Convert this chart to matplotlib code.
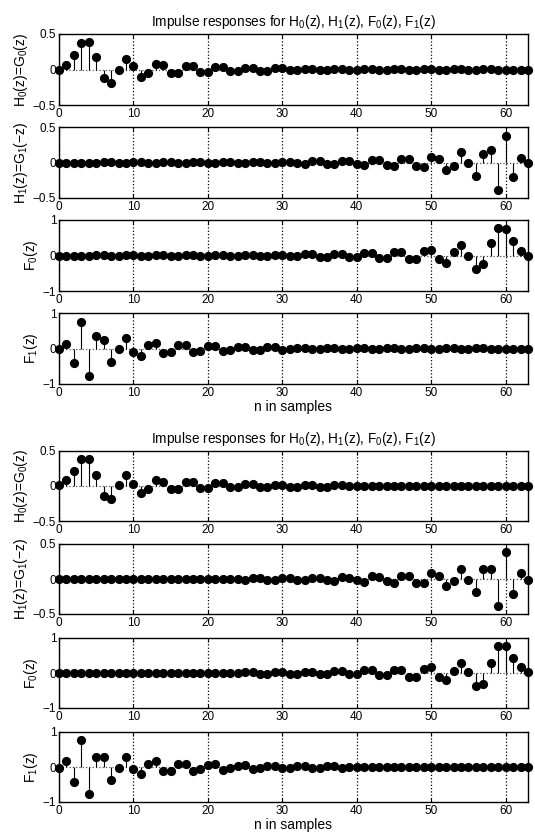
import numpy as np
import matplotlib.pyplot as plt

plt.rcParams['font.family'] = ['Liberation Sans', 'DejaVu Sans']
plt.rcParams['mathtext.fontset'] = 'custom'
plt.rcParams['mathtext.rm'] = 'Liberation Sans'
plt.rcParams['mathtext.it'] = 'Liberation Sans:italic'

n = np.arange(64)

# first group (upper half)
h0_a = [0.0, 0.07, 0.20, 0.37, 0.39, 0.17, -0.12, -0.19, 0.0, 0.15,
        0.055, -0.10, -0.055, 0.08, 0.065, -0.05, -0.055, 0.045, 0.05, -0.03,
        -0.04, 0.035, 0.035, -0.02, -0.02, 0.028, 0.028, -0.015, -0.015, 0.02,
        0.02, -0.012, -0.012, 0.012, 0.012, -0.01, -0.01, 0.008, 0.008, -0.006,
        -0.006, 0.005, 0.005, -0.004, -0.004, 0.003, 0.003, -0.003, -0.003, 0.002,
        0.002, -0.002, -0.002, 0.001, 0.001, -0.001, -0.001, 0.001, 0.001, 0.0,
        0.0, 0.0, 0.0, 0.0]
h1_a = [0.0, 0.0, 0.0, 0.0, 0.0, -0.001, 0.001, 0.001, -0.001, -0.001,
        0.001, 0.002, -0.002, -0.002, 0.002, 0.003, -0.003, -0.003, 0.003, 0.004,
        -0.004, -0.005, 0.005, 0.006, -0.006, -0.008, 0.008, 0.01, -0.01, -0.012,
        0.012, 0.012, -0.012, -0.02, 0.02, 0.015, -0.015, -0.028, 0.028, 0.02,
        -0.02, -0.035, 0.035, 0.04, -0.03, -0.05, 0.045, 0.055, -0.05, -0.065,
        0.08, 0.055, -0.10, -0.055, 0.15, 0.0, -0.19, 0.12, 0.17, -0.39,
        0.37, -0.20, 0.07, 0.0]
f0_a = [0.0, 0.0, 0.0, 0.0, 0.0, 0.002, 0.002, -0.002, -0.002, 0.002,
        0.002, -0.004, -0.004, 0.004, 0.004, -0.006, -0.006, 0.006, 0.006, -0.008,
        -0.008, 0.01, 0.01, -0.012, -0.012, 0.016, 0.016, -0.02, -0.02, 0.024,
        0.024, -0.024, -0.024, 0.04, 0.04, -0.03, -0.03, 0.056, 0.056, -0.04,
        -0.04, 0.07, 0.07, -0.08, -0.06, 0.10, 0.09, -0.11, -0.10, 0.13,
        0.16, -0.11, -0.20, 0.11, 0.30, 0.0, -0.38, -0.24, 0.34, 0.78,
        0.74, 0.40, 0.14, 0.0]
f1_a = [0.0, 0.14, -0.40, 0.74, -0.78, 0.34, 0.24, -0.38, 0.0, 0.30,
        -0.11, -0.20, 0.11, 0.16, -0.13, -0.10, 0.11, 0.09, -0.10, -0.06,
        0.08, 0.07, -0.07, -0.04, 0.04, 0.056, -0.056, -0.03, 0.03, 0.04,
        -0.04, -0.024, 0.024, 0.024, -0.024, -0.02, 0.02, 0.016, -0.016, -0.012,
        0.012, 0.01, -0.01, -0.008, 0.008, 0.006, -0.006, -0.006, 0.006, 0.004,
        -0.004, -0.004, 0.004, 0.002, -0.002, -0.002, 0.002, 0.002, -0.002, 0.0,
        0.0, 0.0, 0.0, 0.0]

# second group (lower half)
h0_b = [0.01, 0.08, 0.22, 0.38, 0.38, 0.15, -0.15, -0.18, 0.02, 0.15,
        0.03, -0.10, -0.05, 0.08, 0.06, -0.05, -0.05, 0.05, 0.05, -0.03,
        -0.03, 0.04, 0.04, -0.02, -0.02, 0.03, 0.03, -0.015, -0.015, 0.02,
        0.02, -0.01, -0.01, 0.012, 0.012, -0.008, -0.008, 0.008, 0.008, -0.005,
        -0.005, 0.005, 0.005, -0.003, -0.003, 0.003, 0.003, -0.002, -0.002, 0.002,
        0.002, -0.001, -0.001, 0.001, 0.001, 0.0, 0.0, 0.0, 0.0, 0.0,
        0.0, 0.0, 0.0, 0.0]
h1_b = [0.0, 0.0, 0.0, 0.0, 0.0, 0.0, 0.0, 0.0, 0.0, -0.001,
        0.001, 0.001, -0.001, -0.002, 0.002, 0.002, -0.002, -0.003, 0.003, 0.003,
        -0.003, -0.005, 0.005, 0.005, -0.005, -0.008, 0.008, 0.008, -0.008, -0.012,
        0.012, 0.01, -0.01, -0.02, 0.02, 0.015, -0.015, -0.03, 0.03, 0.02,
        -0.02, -0.04, 0.04, 0.03, -0.03, -0.05, 0.05, 0.05, -0.05, -0.06,
        0.08, 0.05, -0.10, -0.03, 0.15, -0.02, -0.18, 0.15, 0.15, -0.38,
        0.38, -0.22, 0.08, -0.01]
f0_b = [0.0, 0.0, 0.0, 0.0, 0.0, 0.0, 0.0, 0.0, 0.0, 0.002,
        0.002, -0.002, -0.002, 0.004, 0.004, -0.004, -0.004, 0.006, 0.006, -0.006,
        -0.006, 0.01, 0.01, -0.01, -0.01, 0.016, 0.016, -0.016, -0.016, 0.024,
        0.024, -0.02, -0.02, 0.04, 0.04, -0.03, -0.03, 0.06, 0.06, -0.04,
        -0.04, 0.08, 0.08, -0.06, -0.06, 0.10, 0.10, -0.10, -0.10, 0.12,
        0.16, -0.10, -0.20, 0.06, 0.30, 0.04, -0.36, -0.30, 0.30, 0.76,
        0.76, 0.44, 0.16, 0.02]
f1_b = [-0.02, 0.16, -0.44, 0.76, -0.76, 0.30, 0.30, -0.36, -0.04, 0.30,
        -0.06, -0.20, 0.10, 0.16, -0.12, -0.10, 0.10, 0.10, -0.10, -0.06,
        0.06, 0.08, -0.08, -0.04, 0.04, 0.06, -0.06, -0.03, 0.03, 0.04,
        -0.04, -0.02, 0.02, 0.024, -0.024, -0.016, 0.016, 0.016, -0.016, -0.01,
        0.01, 0.01, -0.01, -0.006, 0.006, 0.006, -0.006, -0.004, 0.004, 0.004,
        -0.004, -0.002, 0.002, 0.002, -0.002, 0.0, 0.0, 0.0, 0.0, 0.0,
        0.0, 0.0, 0.0, 0.0]

ylabels = ['H$_0$(z)=G$_0$(z)', 'H$_1$(z)=G$_1$(\u2212z)', 'F$_0$(z)', 'F$_1$(z)']
ylims = [0.5, 0.5, 1, 1]
title = 'Impulse responses for H$_0$(z), H$_1$(z), F$_0$(z), F$_1$(z)'

W, H = 535, 836
fig = plt.figure(figsize=(W / 100, H / 100), dpi=100)


def panel(top, height, vals, ylab, lim):
    ax = fig.add_axes([59 / W, 1 - (top + height) / H, 469 / W, height / H])
    ml, sl, bl = ax.stem(n, vals, linefmt='k-', markerfmt='ko', basefmt=' ')
    ml.set_markersize(5.6)
    ml.set_clip_on(False)
    sl.set_linewidth(0.8)
    ax.axhline(0, color='#555555', ls=':', lw=0.9, zorder=1)
    ax.set_xlim(0, 63)
    ax.set_ylim(-lim, lim)
    ax.set_yticks([-lim, 0, lim])
    ax.set_yticklabels(['\u22120.5', '0', '0.5'] if lim == 0.5 else ['\u22121', '0', '1'])
    ax.set_xticks(np.arange(0, 70, 10))
    ax.xaxis.grid(True, ls=':', color='k', lw=0.9)
    ax.tick_params(direction='in', top=True, right=True, length=3, labelsize=8.5, pad=2)
    for s in ax.spines.values():
        s.set_linewidth(1.0)
    ax.set_ylabel(ylab, fontsize=10, labelpad=2)
    return ax


for tops, hgt, data in [([34, 127, 220, 313], 71, [h0_a, h1_a, f0_a, f1_a]),
                        ([451, 544, 638, 732], 70, [h0_b, h1_b, f0_b, f1_b])]:
    axs = [panel(t, hgt, d, yl, lim) for t, d, yl, lim in zip(tops, data, ylabels, ylims)]
    axs[0].set_title(title, fontsize=9.8, pad=6)
    axs[-1].set_xlabel('n in samples', fontsize=10, labelpad=1)

fig.savefig('out.png', dpi=100)
